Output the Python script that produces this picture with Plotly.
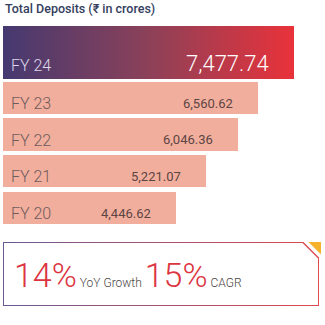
import plotly.graph_objects as go

# Total deposits by financial year (₹ in crores)
years = ["FY 24", "FY 23", "FY 22", "FY 21", "FY 20"]
deposits = [7477.74, 6560.62, 6046.36, 5221.07, 4446.62]
value_labels = ["7,477.74", "6,560.62", "6,046.36", "5,221.07", "4,446.62"]
yoy_growth = "14%"
cagr = "15%"

W = H = 325
FONT = "Roboto"

# vertical layout in pixels (y axis runs 0..325 top-down)
lead_top, lead_h = 26, 53
row_top, row_h, row_pitch = 81.7, 32.5, 36.6
centers = [lead_top + lead_h / 2] + [row_top + row_h / 2 + i * row_pitch for i in range(len(years) - 1)]
heights = [lead_h] + [row_h] * (len(years) - 1)

# x scale: zero sits 3px from the left edge, 0.0389 px per crore
px_per_unit = 291 / deposits[0]
x_lo = -3 / px_per_unit
x_hi = x_lo + W / px_per_unit

fig = go.Figure()

# trailing years as flat salmon bars
fig.add_trace(go.Bar(
    x=deposits[1:], y=centers[1:], width=heights[1:], base=0,
    orientation="h", marker=dict(color="#f2ae9c", line=dict(width=0)),
    hoverinfo="skip", showlegend=False,
))

# latest year: horizontal purple→red gradient
v = deposits[0]
y0, y1 = centers[0] - heights[0] / 2, centers[0] + heights[0] / 2
fig.add_trace(go.Scatter(
    x=[0, v, v, 0, 0], y=[y0, y0, y1, y1, y0], mode="lines",
    line=dict(width=0), fill="toself",
    fillgradient=dict(type="horizontal",
                      colorscale=[[0, "#453970"], [0.5, "#8c4159"], [1, "#e9323a"]]),
    hoverinfo="skip", showlegend=False,
))

# summary box with gradient border and clipped top-right corner (pixel axes x2/y)
def box(inset):
    l, t, r, b, cut = 3 + inset, 242 + inset, 319 - inset, 306 - inset, 15.5
    return [l, r - cut, r, r, l, l], [t, t, t + cut, b, b, t]

bx, by = box(0)
fig.add_trace(go.Scatter(
    x=bx, y=by, xaxis="x2", mode="lines", line=dict(width=0), fill="toself",
    fillgradient=dict(type="horizontal", colorscale=[[0, "#6a5a92"], [1, "#e04a50"]]),
    hoverinfo="skip", showlegend=False,
))
ix, iy = box(1.0)
fig.add_trace(go.Scatter(
    x=ix, y=iy, xaxis="x2", mode="lines", line=dict(width=0), fill="toself",
    fillcolor="white", hoverinfo="skip", showlegend=False,
))
# orange corner tab
fig.add_trace(go.Scatter(
    x=[308.5, 321, 321, 308.5], y=[242, 242, 254.5, 242], xaxis="x2", mode="lines",
    line=dict(width=0), fill="toself", fillcolor="#f6b22c",
    hoverinfo="skip", showlegend=False,
))

annotations = [dict(
    text="Total Deposits (₹ in crores)", x=3 / W, y=1 - 8.5 / H,
    xref="paper", yref="paper", xanchor="left", yanchor="middle",
    showarrow=False, font=dict(family=FONT, size=12.5, weight=500, color="#34405e"),
)]

for i, (yr, lab) in enumerate(zip(years, value_labels)):
    lead = i == 0
    bottom = centers[i] + heights[i] / 2
    annotations.append(dict(
        text=yr, x=9 / W, xref="paper", y=bottom - (13.5 if lead else 10.5), yref="y",
        xanchor="left", yanchor="middle", showarrow=False,
        font=dict(family=FONT, size=16, weight=300,
                  color="#ddd8ea" if lead else "#6e5c5c"),
    ))
    annotations.append(dict(
        text=lab, x=deposits[i], xref="x", xshift=-23.5,
        y=bottom - (16 if lead else 11), yref="y",
        xanchor="right", yanchor="middle", showarrow=False,
        font=dict(family=FONT, size=22 if lead else 13, weight=300 if lead else 400,
                  color="#ffffff" if lead else "#5c4545"),
    ))

gray = "color:#4a4444;font-size:12px"
annotations.append(dict(
    text=(f"{yoy_growth}<span style='{gray}'> YoY Growth </span>"
          f"{cagr}<span style='{gray}'> CAGR</span>"),
    x=12 / W, y=1 - 275 / H, xref="paper", yref="paper",
    xanchor="left", yanchor="middle", showarrow=False,
    font=dict(family=FONT, size=34, weight=300, color="#dc3540"),
))

fig.update_layout(
    width=W, height=H, margin=dict(l=0, r=0, t=0, b=0),
    paper_bgcolor="white", plot_bgcolor="white",
    xaxis=dict(range=[x_lo, x_hi], visible=False, fixedrange=True),
    xaxis2=dict(range=[0, W], visible=False, overlaying="x", fixedrange=True),
    yaxis=dict(range=[H, 0], visible=False, fixedrange=True),
    annotations=annotations, bargap=0, showlegend=False,
)

fig.write_html("out.html", config=dict(displayModeBar=False))
